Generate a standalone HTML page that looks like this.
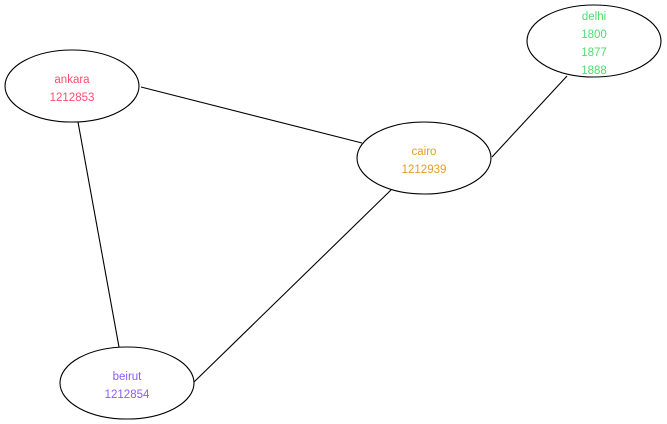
<!DOCTYPE html>
<html><head><meta charset="utf-8"><style>
html,body{margin:0;padding:0;background:#fff;}
svg{display:block;}
text{font-family:"Liberation Sans",sans-serif;font-size:11.5px;text-anchor:middle;}
</style></head><body>
<svg width="667" height="424" viewBox="0 0 667 424" xmlns="http://www.w3.org/2000/svg">
<g stroke="#000" stroke-width="1.1" fill="none">
<line x1="141" y1="87" x2="362" y2="143"/>
<line x1="78" y1="122" x2="119" y2="347"/>
<line x1="391" y1="190" x2="194" y2="382"/>
<line x1="492" y1="157" x2="567" y2="76"/>
<ellipse cx="72" cy="86" rx="67" ry="36"/>
<ellipse cx="424" cy="158" rx="67" ry="36"/>
<ellipse cx="594" cy="41" rx="67" ry="36"/>
<ellipse cx="127" cy="383" rx="67" ry="36"/>
</g>
<g fill="#ff4d6d"><text x="72" y="83">ankara</text><text x="72" y="101">1212853</text></g>
<g fill="#e39b2a"><text x="424" y="155">cairo</text><text x="424" y="173">1212939</text></g>
<g fill="#4ddd6f"><text x="594" y="20">delhi</text><text x="594" y="38">1800</text><text x="594" y="56">1877</text><text x="594" y="74">1888</text></g>
<g fill="#8a5cff"><text x="127" y="380">beirut</text><text x="127" y="398">1212854</text></g>
</svg>
</body></html>
